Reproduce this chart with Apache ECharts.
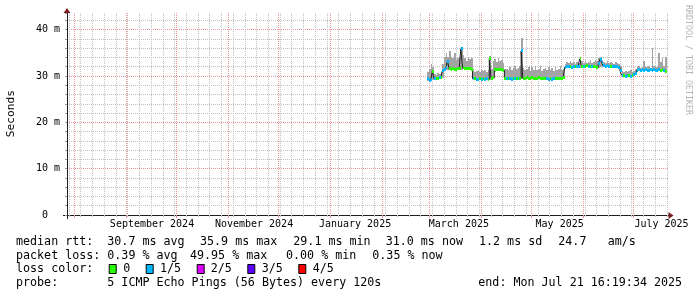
<!DOCTYPE html>
<html><head><meta charset="utf-8">
<script src="https://cdn.jsdelivr.net/npm/echarts@6/dist/echarts.min.js"></script>
<style>html,body{margin:0;padding:0;background:#fff}#c{width:697px;height:297px}</style>
</head><body><div id="c"></div>
<script>
const DAY = 86400000;
const firstDay = Date.UTC(2025, 1, 28);   // first daily bin with data
const xMin = Date.UTC(2024, 6, 27, 19, 41);
const xMax = Date.UTC(2025, 6, 22, 7, 12);

// median RTT (ms) per day
const medianMs = [
 29.4,29.1,29.3,31.0,29.4,29.5,29.5,29.6,29.7,31.2,
 31.5,31.8,33.2,31.6,31.5,31.6,31.4,31.5,31.6,31.7,
 35.9,31.8,31.7,31.6,31.7,31.6,31.5,29.4,29.4,29.3,
 29.3,29.4,29.3,29.4,29.3,29.4,29.3,33.8,29.5,29.6,
 31.3,31.4,31.5,31.4,31.3,31.2,29.5,29.4,29.5,29.4,
 29.3,29.4,29.5,29.4,29.4,29.5,35.4,29.5,29.5,29.6,
 29.5,29.5,29.6,29.5,29.4,29.5,29.6,29.5,29.5,29.4,
 29.5,29.4,29.3,29.4,29.3,29.4,29.5,29.5,29.4,29.5,
 29.5,29.6,31.9,32.0,32.1,32.0,31.9,32.0,32.0,32.1,
 32.0,33.7,32.1,32.0,32.1,32.2,32.0,32.1,32.0,32.1,
 32.0,31.8,32.6,33.6,33.0,32.2,32.1,32.2,32.0,32.1,
 32.0,32.1,32.0,32.0,31.9,31.2,30.2,30.1,30.0,30.2,
 30.1,30.0,30.2,30.3,30.6,31.2,31.3,31.2,31.3,31.2,
 31.3,31.2,31.2,31.3,31.2,31.3,31.2,31.2,31.3,31.2,
 31.3,31.1,31.0
];
// smoke: lowest and highest ping of the bin (ms)
const smokeLo = [
 28.9,28.9,29.0,29.1,29.1,29.2,29.2,29.3,29.4,29.6,
 31.1,31.4,31.3,31.2,31.2,31.3,31.1,31.2,31.3,31.4,
 31.4,31.5,31.4,31.3,31.4,31.3,31.2,29.1,29.1,29.0,
 29.0,29.1,29.0,29.1,29.0,29.1,29.0,29.2,29.2,29.3,
 30.9,31.1,31.2,31.1,31.0,30.8,29.2,29.1,29.2,29.1,
 29.0,29.1,29.2,29.1,29.1,29.2,29.3,29.2,29.2,29.3,
 29.2,29.2,29.3,29.2,29.1,29.2,29.3,29.2,29.2,29.1,
 29.2,29.1,29.0,29.1,29.0,29.1,29.2,29.2,29.1,29.2,
 29.2,29.3,31.5,31.7,31.8,31.7,31.6,31.7,31.7,31.8,
 31.7,31.8,31.8,31.7,31.8,31.9,31.7,31.8,31.7,31.8,
 31.7,31.5,31.8,31.9,31.9,31.9,31.8,31.9,31.7,31.8,
 31.7,31.8,31.7,31.7,31.6,30.8,29.9,29.8,29.7,29.9,
 29.8,29.7,29.9,30.0,30.2,30.9,31.0,30.9,31.0,30.9,
 31.0,30.9,30.9,31.0,30.9,31.0,30.9,30.9,31.0,30.9,
 31.0,30.8,30.7
];
const smokeHi = [
 30.8,31.5,32.6,32.0,30.5,30.3,30.6,30.4,30.8,32.5,
 34.2,35.0,34.0,35.3,34.0,33.8,35.0,33.5,33.9,34.2,
 36.0,34.5,33.8,33.2,34.0,33.6,33.8,31.5,30.8,31.0,
 31.3,30.9,31.2,31.0,31.3,30.8,31.4,34.3,31.5,33.2,
 33.6,33.0,33.8,33.2,33.5,32.8,31.5,31.6,31.3,31.9,
 31.4,31.7,32.1,31.5,31.8,32.2,38.2,31.7,31.2,31.5,
 32.0,31.1,31.9,31.3,32.2,31.2,31.6,32.1,31.0,31.5,
 31.8,31.2,31.9,31.3,31.7,31.1,32.0,31.4,31.6,32.1,
 31.2,31.5,32.6,33.0,32.8,33.2,32.9,33.1,32.7,33.0,
 32.8,34.0,33.2,32.9,33.3,32.8,33.0,33.4,32.9,33.1,
 33.5,33.2,33.8,34.0,33.5,33.1,32.9,33.2,32.8,33.0,
 32.9,32.7,33.0,32.8,32.6,32.2,31.0,30.9,31.1,30.8,
 31.0,31.2,30.9,31.1,31.6,31.9,32.1,31.8,32.0,33.2,
 32.0,31.9,32.2,31.8,36.0,32.1,31.9,32.0,35.0,33.0,
 33.9,32.2,34.0
];
// loss level per day: 0 = no loss, 1 = 1/5
const lossLevel = [
 1,1,1,0,1,0,0,1,0,1,
 1,1,1,0,0,0,0,0,0,0,
 1,0,0,0,0,0,0,1,0,1,
 1,0,1,0,1,1,0,0,0,0,
 0,0,0,0,0,0,0,1,0,1,
 1,0,1,0,1,0,1,0,0,0,
 0,0,0,0,0,0,0,0,0,0,
 0,1,1,0,1,1,0,0,0,0,
 0,0,1,1,1,0,1,1,0,1,
 1,0,0,1,0,0,1,0,1,0,
 0,0,1,1,1,1,1,1,1,0,
 1,1,1,1,1,1,1,0,1,1,
 0,1,0,1,1,1,1,1,1,1,
 1,1,1,1,1,1,1,1,1,0,
 0,1,0
];
const lossColors = ['#26ff00', '#00b8ff', '#dd00ff', '#5e00ff', '#ff0000'];
const lossNames = ['0', '1/5', '2/5', '3/5', '4/5'];

const yTickValues = [0, 10, 20, 30, 40];
const xLabelTexts = ['September 2024', 'November 2024', 'January 2025', 'March 2025', 'May 2025', 'July 2025'];
const xLabelAt = [Date.UTC(2024,8,16,14), Date.UTC(2024,10,16,12), Date.UTC(2025,0,15,20),
                  Date.UTC(2025,2,18,20), Date.UTC(2025,4,18,0), Date.UTC(2025,6,17,20)];

const statsLine1 = [['median rtt:',16],['30.7 ms avg',107.3],['35.9 ms max',200],['29.1 ms min',293.3],
                    ['31.0 ms now',385.7],['1.2 ms sd',479],['24.7',558.3],['am/s',607.7]];
const statsLine2 = [['packet loss:',16],['0.39 % avg',107.3],['49.95 % max',190],['0.00 % min',286],['0.35 % now',372.3]];
const lossBoxX = [108.7, 145.7, 196.7, 247.3, 298.3];
const lossTextX = [123.3, 160, 210.7, 261.7, 312.7];
const probeLine = [['probe:',16],['5 ICMP Echo Pings (56 Bytes) every 120s',107.3],['end: Mon Jul 21 16:19:34 2025',478.3]];

// grid-line positions
const monthLines = [];
for (let m = 7; m <= 18; m++) monthLines.push(Date.UTC(2024, m, 1));
const weekLines = [];
for (let t = Date.UTC(2024, 6, 29); t <= xMax; t += 7 * DAY) weekLines.push(t);

const smokeData = smokeLo.map((lo, i) => [firstDay + i * DAY, lo, smokeHi[i]]);
const bandData = medianMs.map((m, i) => [firstDay + i * DAY, m, lossLevel[i]]);
const lineData = medianMs.map((m, i) => [firstDay + i * DAY, m]);
lineData.push([firstDay + medianMs.length * DAY, medianMs[medianMs.length - 1]]);

const MONO = '"DejaVu Sans Mono", monospace';
const GRID_C = '#bfbfbf';
const MGRID_C = '#eb9595';

const graphics = [];
function txt(text, x, y, size, extra) {
  graphics.push(Object.assign({type:'text', x:x, y:y, silent:true,
    style:{text:text, fill:'#000', font: size + 'px ' + MONO, align:'left', verticalAlign:'middle'}}, extra || {}));
}
statsLine1.forEach(s => txt(s[0], s[1], 242, 11.68));
statsLine2.forEach(s => txt(s[0], s[1], 255.5, 11.68));
txt('loss color:', 16, 269.3, 11.68);
lossBoxX.forEach((bx, i) => {
  graphics.push({type:'rect', silent:true, shape:{x:bx + 0.5, y:264.5, width:7, height:9},
    style:{fill:lossColors[i], stroke:'#000', lineWidth:1}});
  txt(lossNames[i], lossTextX[i], 269.3, 11.68);
});
probeLine.forEach(s => txt(s[0], s[1], 283, 11.68));
graphics.push({type:'text', x:11, y:113.7, rotation:Math.PI/2, silent:true,
  style:{text:'Seconds', fill:'#000', font:'11.2px ' + MONO, align:'center', verticalAlign:'middle'}});
graphics.push({type:'text', x:688, y:60, rotation:-Math.PI/2, silent:true,
  style:{text:'RRDTOOL / TOBI OETIKER', fill:'#b4b4b4', font:'8.3px ' + MONO, align:'center', verticalAlign:'middle'}});
// axis overhang + arrows
graphics.push({type:'line', silent:true, shape:{x1:63, y1:215.5, x2:67, y2:215.5}, style:{stroke:'#1f1f1f', lineWidth:1}});
graphics.push({type:'line', silent:true, shape:{x1:67.5, y1:215, x2:67.5, y2:219}, style:{stroke:'#1f1f1f', lineWidth:1}});
graphics.push({type:'polygon', silent:true, shape:{points:[[63.5,13],[70.5,13],[67,8]]}, style:{fill:'#801f1f'}});
graphics.push({type:'polygon', silent:true, shape:{points:[[668.5,212],[668.5,219],[673.5,215.5]]}, style:{fill:'#801f1f'}});

function smokeItem(params, api) {
  const t = api.value(0);
  const a = api.coord([t, api.value(2)]);
  const b = api.coord([t + DAY, api.value(1)]);
  const x0 = Math.round(a[0]), x1 = Math.round(b[0]);
  const y0 = Math.round(a[1]), y1 = Math.round(b[1]);
  return {type:'rect', shape:{x:x0, y:y0, width:Math.max(1, x1 - x0), height:Math.max(1, y1 - y0)},
          style:{fill:'#a4a4a4'}};
}
function bandItem(params, api) {
  const t = api.value(0), m = api.value(1), lv = api.value(2);
  const a = api.coord([t, m]);
  const b = api.coord([t + DAY, m]);
  const x0 = Math.round(a[0]), x1 = Math.round(b[0]);
  const yc = Math.floor(a[1]);
  return {type:'rect', shape:{x:x0, y:yc - 1, width:Math.max(1, x1 - x0), height:3},
          style:{fill:lossColors[lv]}};
}

const chart = echarts.init(document.getElementById('c'), null, {renderer:'canvas'});
chart.setOption({
  animation:false,
  backgroundColor:'#fff',
  grid:{left:67, right:28, top:13, bottom:82, outerBoundsMode:'none', containLabel:false},
  xAxis:[
    {type:'value', min:xMin, max:xMax, position:'bottom',
     axisLine:{show:true, lineStyle:{color:'#1f1f1f', width:1}},
     axisTick:{show:true, customValues:weekLines, length:2, lineStyle:{color:GRID_C}},
     axisLabel:{show:false},
     splitLine:{show:true, lineStyle:{color:GRID_C, type:[1,1], width:1}}},
    {type:'value', min:xMin, max:xMax, position:'bottom',
     axisLine:{show:false},
     axisTick:{show:true, customValues:monthLines, length:3, lineStyle:{color:MGRID_C}},
     axisLabel:{show:false},
     splitLine:{show:true, lineStyle:{color:MGRID_C, type:[1,1], width:1}}},
    {type:'value', min:xMin, max:xMax, position:'bottom',
     axisLine:{show:false},
     axisTick:{show:false, customValues:xLabelAt},
     splitLine:{show:false},
     axisLabel:{show:true, customValues:xLabelAt, margin:4, color:'#000', fontFamily:MONO, fontSize:10,
       formatter:(v) => { const i = xLabelAt.indexOf(v); return i >= 0 ? xLabelTexts[i] : ''; }}}
  ],
  yAxis:{type:'value', min:0, max:43.6, interval:2,
    axisLine:{show:true, lineStyle:{color:'#1f1f1f', width:1}},
    axisTick:{show:true, length:2, lineStyle:{color:'#9a9a9a'}},
    axisLabel:{customValues:yTickValues, margin:7, color:'#000', fontFamily:MONO, fontSize:10,
      formatter:(v) => v === 0 ? '0  ' : v + ' m'},
    splitLine:{show:true, showMaxLine:false,
      lineStyle:{color:[MGRID_C, GRID_C, GRID_C, GRID_C, GRID_C], type:[1,1], width:1}}},
  series:[
    {type:'custom', name:'smoke', xAxisIndex:0, data:smokeData, renderItem:smokeItem,
     encode:{x:0, y:[1,2]}, z:2, silent:true},
    {type:'line', name:'median', xAxisIndex:0, data:lineData, step:'end', symbol:'none',
     lineStyle:{color:'#202020', width:1}, z:3, silent:true},
    {type:'custom', name:'loss', xAxisIndex:0, data:bandData, renderItem:bandItem,
     encode:{x:0, y:1}, z:4, silent:true}
  ],
  graphic:graphics
});
</script>
</body></html>
